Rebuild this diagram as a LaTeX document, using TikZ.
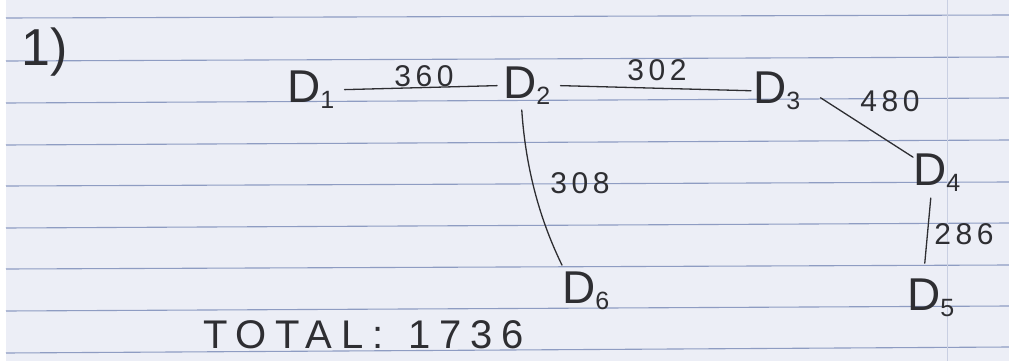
\documentclass[tikz,border=0pt]{standalone}
\usepackage{fontspec}
\setmainfont{Liberation Sans}
\definecolor{paper}{HTML}{ECEEF6}
\definecolor{rule}{HTML}{8E9CC2}
\definecolor{margin}{HTML}{C9CFE2}
\definecolor{ink}{HTML}{2E2E32}
\newcommand{\Dsub}[1]{D\raisebox{-0.15em}{\fontsize{25}{25}\selectfont #1}}
\tikzset{
  dnode/.style={inner sep=0pt, anchor=base west, text=ink, font=\fontsize{46}{46}\selectfont},
  lbl/.style={inner sep=0pt, text=ink, font=\fontsize{30}{30}\selectfont\addfontfeature{LetterSpace=15}},
  totl/.style={inner sep=0pt, anchor=base west, text=ink, font=\fontsize{40}{40}\selectfont\addfontfeature{LetterSpace=22}},
  edge/.style={draw=ink, line width=1.3pt, line cap=round},
  ruled/.style={draw=rule, line width=1.1pt}
}
\begin{document}
\begin{tikzpicture}[x=1pt,y=-1pt]
\useasboundingbox (0,0) rectangle (1009,361);
\fill[paper] (0,0) rectangle (1009,361);
\fill[white] (0,0) rectangle (6,361);
% ruled lines
\foreach \a/\b in {18/15,61/57,103/98,145/140,186/182,228/223,269/265,311/306,353/347}
  \draw[ruled] (6,\a) -- (1009,\b);
\draw[margin, line width=1pt] (947,0) -- (947,361);
% nodes
\node[lbl, font=\fontsize{52}{52}\selectfont] (one) at (45,52) {1)};
\node[dnode] (d1) at (287,102) {\Dsub{1}};
\node[dnode] (d2) at (503,98) {\Dsub{2}};
\node[dnode] (d3) at (753,103) {\Dsub{3}};
\node[dnode] (d4) at (913,185) {\Dsub{4}};
\node[dnode] (d5) at (907,310) {\Dsub{5}};
\node[dnode] (d6) at (562,303) {\Dsub{6}};
\node[lbl] (w12) at (424,76) {360};
\node[lbl] (w23) at (657,70) {302};
\node[lbl] (w34) at (890,101) {480};
\node[lbl] (w26) at (580,183) {308};
\node[lbl] (w45) at (964,234) {286};
\node[totl] (tot) at (203,348) {TOTAL:};
\node[totl] (sum) at (408,348) {1736};
% connectors
\draw[edge] ([xshift=10pt]d1.east) -- ([xshift=-6pt]d2.west);
\draw[edge] ([xshift=10pt]d2.east) -- ([xshift=-2pt]d3.west);
\draw[edge] ([xshift=20pt,yshift=-7pt]d3.east) -- ([yshift=-4pt]d4.north west);
\draw[edge] ([xshift=-6pt,yshift=-6pt]d4.south) -- ([xshift=-6pt,yshift=15pt]d5.north);
\draw[edge] ([xshift=-5pt,yshift=-5pt]d2.south) .. controls ([xshift=0pt,yshift=-80pt]d2.south) and ([xshift=-14pt,yshift=35pt]d6.north west) .. ([yshift=6pt]d6.north west);
\end{tikzpicture}
\end{document}
